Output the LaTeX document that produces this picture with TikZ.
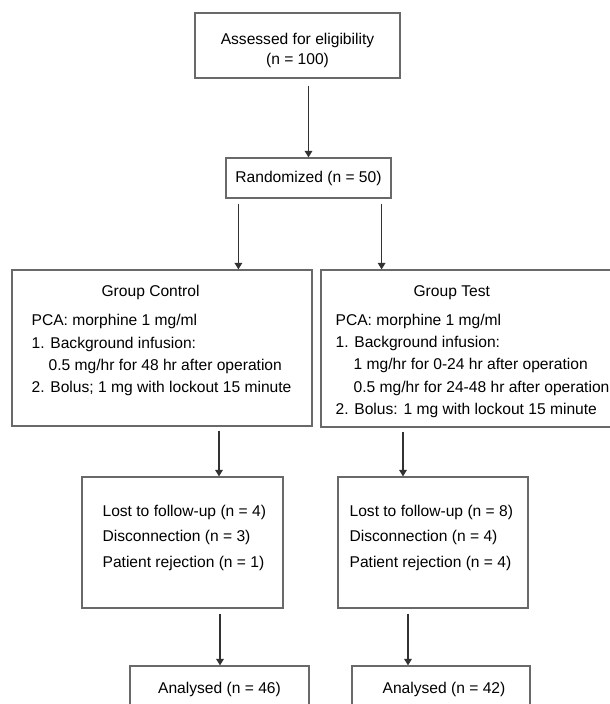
\documentclass[tikz,border=0pt]{standalone}
\usepackage{fontspec}
\setmainfont{Liberation Sans}
\usetikzlibrary{arrows.meta}
\definecolor{boxgray}{RGB}{105,105,105}
\definecolor{arrgray}{RGB}{50,50,50}

\begin{document}
\begin{tikzpicture}[x=1pt,y=-1pt,
  every node/.style={font=\fontsize{15.6}{20}\selectfont},
  box/.style={draw=boxgray,line width=1.2pt,inner sep=0pt,align=center},
  txt/.style={align=left,inner sep=0pt,anchor=north west,
    font=\fontsize{15.6}{22.3}\selectfont},
  arr/.style={draw=arrgray,line width=1.5pt,
    -{Triangle[length=6.5pt,width=7.5pt]}}]
  \useasboundingbox (0,0) rectangle (610,704);
  % boxes
  \node[box,minimum width=205pt,minimum height=65pt] (elig) at (297.5,45.5) {};
  \node[align=center,inner sep=0pt] (eligtxt) at ([yshift=-4.5pt]elig.center)
    {Assessed for eligibility\\(n = 100)};
  \node[box,minimum width=165pt,minimum height=40pt] (rand) at (308.5,178)
    {Randomized (n = 50)};
  \node[box,minimum width=300pt,minimum height=156pt] (ctrl) at (162,348) {};
  \node[box,minimum width=293pt,minimum height=157pt] (test) at (467.5,348.5) {};
  \node[box,minimum width=201pt,minimum height=131pt] (lostc) at (182.5,542.5) {};
  \node[box,minimum width=190pt,minimum height=131pt] (lostt) at (433,542.5) {};
  \node[box,minimum width=179pt,minimum height=46pt] (anac) at (219.5,689)
    {Analysed (n = 46)};
  \node[box,minimum width=178pt,minimum height=46pt] (anat) at (441,689)
    {\hspace*{6pt}Analysed (n = 42)};
  % texts in the big boxes
  \node[txt] (ctrltxt) at ([xshift=20pt,yshift=-16pt]ctrl.north west)
    {\hspace*{70pt}Group Control\\[6.5pt]
     PCA: morphine 1 mg/ml\\
     1. Background infusion:\\
     \hspace*{17pt}0.5 mg/hr for 48 hr after operation\\
     2. Bolus; 1 mg with lockout 15 minute};
  \node[txt] (testtxt) at ([xshift=15pt,yshift=-16pt]test.north west)
    {\hspace*{78pt}Group Test\\[6.5pt]
     PCA: morphine 1 mg/ml\\
     1. Background infusion:\\
     \hspace*{18pt}1 mg/hr for 0-24 hr after operation\\
     \hspace*{18pt}0.5 mg/hr for 24-48 hr after operation\\
     2. Bolus: 1 mg with lockout 15 minute};
  \node[txt,font=\fontsize{15.6}{25.5}\selectfont] (lostctxt)
    at ([xshift=21pt,yshift=-28.5pt]lostc.north west)
    {Lost to follow-up (n = 4)\\Disconnection (n = 3)\\Patient rejection (n = 1)};
  \node[txt,font=\fontsize{15.6}{25.5}\selectfont] (losttxt)
    at ([xshift=12pt,yshift=-28.5pt]lostt.north west)
    {Lost to follow-up (n = 8)\\Disconnection (n = 4)\\Patient rejection (n = 4)};
  % arrows
  \coordinate (e1) at (elig.south -| rand.north);
  \draw[arr] ([yshift=-7pt]e1) -- (rand.north);
  \coordinate (r1) at ([xshift=13pt]rand.south west);
  \coordinate (r2) at ([xshift=-10pt]rand.south east);
  \draw[arr] ([yshift=-5pt]r1) -- (r1 |- ctrl.north);
  \draw[arr] ([yshift=-5pt]r2) -- (r2 |- test.north);
  \coordinate (c1) at ([xshift=57pt]ctrl.south);
  \coordinate (t1) at ([xshift=-64.5pt]test.south);
  \draw[arr] ([yshift=-4pt]c1) -- (c1 |- lostc.north);
  \draw[arr] ([yshift=-4pt]t1) -- (t1 |- lostt.north);
  \coordinate (c2) at ([xshift=37.5pt]lostc.south);
  \coordinate (t2) at ([xshift=-25pt]lostt.south);
  \draw[arr] ([yshift=-5pt]c2) -- (c2 |- anac.north);
  \draw[arr] ([yshift=-5pt]t2) -- (t2 |- anat.north);
\end{tikzpicture}
\end{document}
